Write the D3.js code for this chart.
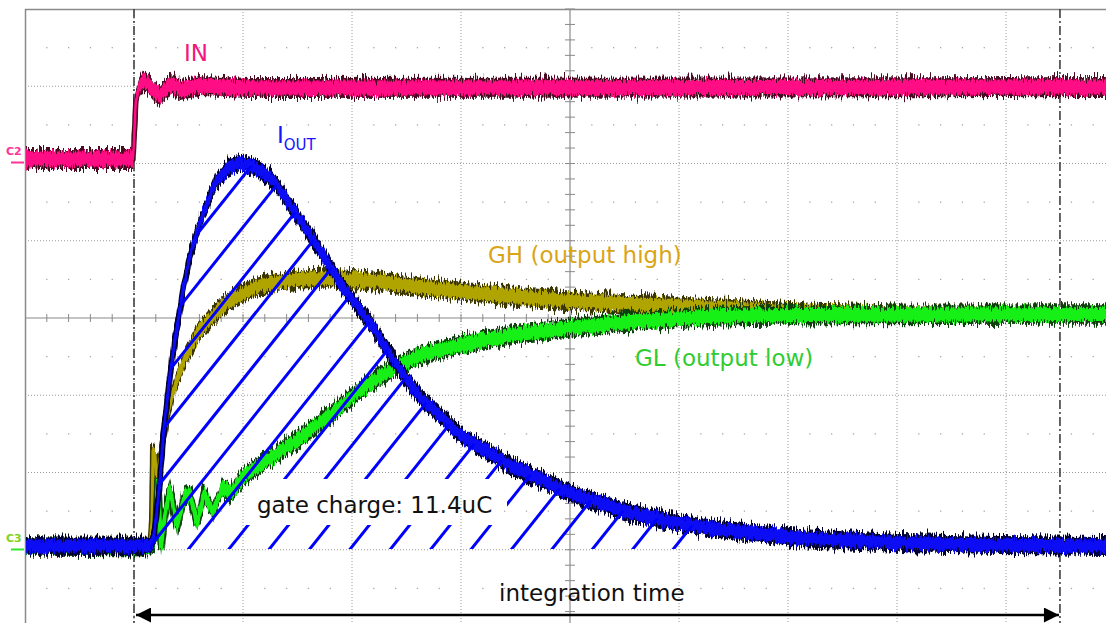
<!DOCTYPE html>
<html><head><meta charset="utf-8">
<script src="https://cdn.jsdelivr.net/npm/d3@7"></script>
<style>body{margin:0;background:#fff;} svg{display:block;font-family:Tahoma,"DejaVu Sans",Verdana,sans-serif;}</style>
</head><body><svg id="c" width="1106" height="623"></svg>
<script>
// ---- data (time and amplitude in screen divisions) ----
const inT   = [0.009,0.991,1.000,1.018,1.046,1.083,1.128,1.174,1.239,1.294,1.349,1.422,1.514,1.606,2.064,9.917];
const inV   = [2.058,2.058,2.304,2.822,2.977,3.081,3.029,2.951,2.874,2.977,3.029,2.951,2.977,3.003,2.977,2.990];

const ioutT = [0.009,1.147,1.174,1.202,1.220,1.239,1.266,1.284,1.330,1.376,1.450,1.514,1.606,1.743,1.862,1.972,2.110,2.275,2.495,2.706,2.917,3.193,3.440,3.624,4.018,4.477,5.000,5.550,6.193,7.110,8.028,8.945,9.917];
const ioutV = [-2.951,-2.951,-2.874,-2.615,-2.356,-2.097,-1.579,-1.320,-0.738,-0.285,0.362,0.816,1.230,1.748,1.942,2.006,1.955,1.786,1.333,0.880,0.401,-0.117,-0.673,-1.023,-1.540,-1.929,-2.265,-2.524,-2.706,-2.848,-2.913,-2.939,-2.951];

const ghT = [0.009,1.147,1.165,1.174,1.193,1.211,1.220,1.266,1.312,1.376,1.468,1.606,1.817,2.064,2.275,2.523,2.798,3.193,3.624,4.358,5.000,5.734,6.376,7.110,8.028,9.917];
const ghV = [-2.951,-2.951,-2.615,-1.735,-1.773,-2.227,-1.968,-1.579,-1.217,-0.867,-0.518,-0.155,0.168,0.375,0.453,0.505,0.518,0.479,0.401,0.298,0.220,0.168,0.129,0.078,0.052,0.052];

const glT = [0.009,1.147,1.193,1.220,1.248,1.284,1.330,1.394,1.459,1.514,1.578,1.642,1.725,1.807,1.899,2.018,2.248,2.523,2.798,3.073,3.349,3.624,3.991,4.450,5.000,5.642,6.376,7.110,9.917];
const glV = [-2.951,-2.964,-2.874,-2.071,-2.977,-2.550,-2.201,-2.718,-2.317,-2.278,-2.667,-2.278,-2.511,-2.201,-2.252,-2.032,-1.812,-1.553,-1.256,-0.932,-0.673,-0.479,-0.350,-0.220,-0.129,-0.039,0.026,0.039,0.052];

const cursorT = [1.0, 9.495];          // integration window cursors
const hatchBase = -2.99;               // integration baseline
const hatchRange = [1.147, 6.20];      // hatched region
const chLevels = [2.058, -2.951];      // C2 / C3 ground markers
const chNames = ["C2", "C3"];
const labels = ["IN", "GH (output high)", "GL (output low)", "gate charge: 11.4uC", "integration time"];

// ---- setup ----
const svg = d3.select("#c");
const x = d3.scaleLinear().domain([0, 10]).range([25, 1115]);
const y = d3.scaleLinear().domain([-4, 4]).range([627, 9]);
const zip = (T, V) => T.map((t, i) => ({t, v: V[i]}));
const line = d3.line().x(d => x(d.t)).y(d => y(d.v));

const defs = svg.append("defs");
function jag(id, seed, scale, fx) {
  const f = defs.append("filter").attr("id", id).attr("filterUnits", "userSpaceOnUse")
    .attr("x", 0).attr("y", 0).attr("width", 1106).attr("height", 623);
  f.append("feTurbulence").attr("type", "fractalNoise").attr("baseFrequency", fx + " 0.05")
    .attr("numOctaves", 2).attr("seed", seed).attr("result", "t");
  f.append("feColorMatrix").attr("in", "t").attr("type", "matrix")
    .attr("values", "0 0 0 0 0.5  0 1 0 0 0  0 0 0 0 0  0 0 0 0 1").attr("result", "m");
  f.append("feDisplacementMap").attr("in", "SourceGraphic").attr("in2", "m")
    .attr("scale", scale).attr("xChannelSelector", "R").attr("yChannelSelector", "G");
}
jag("j1", 3, 16, 0.7);
jag("j2", 9, 12, 0.9);

// ---- grid ----
const g = svg.append("g");
const xs = d3.range(1, 10).filter(k => k !== 5);
const ys = d3.range(-3, 4).filter(k => k !== 0);
g.selectAll(".vg").data(xs).join("line")
  .attr("x1", d => x(d)).attr("x2", d => x(d)).attr("y1", y(4)).attr("y2", 623)
  .attr("stroke", "#9a9a9a").attr("stroke-dasharray", "1,2");
g.selectAll(".hg").data(ys).join("line")
  .attr("y1", d => y(d)).attr("y2", d => y(d)).attr("x1", x(0)).attr("x2", 1106)
  .attr("stroke", "#9a9a9a").attr("stroke-dasharray", "1,2");
const halfRows = d3.range(-3.5, 4, 1);
const dotXs = d3.range(0, 10.01, 0.2).filter(t => Math.abs(t - Math.round(t)) > 0.01);
halfRows.forEach(r => {
  g.selectAll(null).data(dotXs).join("rect")
    .attr("x", d => x(d) - 0.6).attr("y", y(r) - 0.6).attr("width", 1.3).attr("height", 1.3)
    .attr("fill", "#a8a8a8");
});
g.append("line").attr("x1", x(0) + 0.5).attr("x2", x(0) + 0.5).attr("y1", y(4)).attr("y2", 623).attr("stroke", "#8a8a8a").attr("stroke-width", 1.5);
g.append("line").attr("x1", x(0)).attr("x2", 1106).attr("y1", y(4) + 0.5).attr("y2", y(4) + 0.5).attr("stroke", "#8a8a8a").attr("stroke-width", 1.5);
g.append("line").attr("x1", x(5)).attr("x2", x(5)).attr("y1", y(4)).attr("y2", 623).attr("stroke", "#8a8a8a").attr("stroke-width", 1.2);
g.append("line").attr("x1", x(0)).attr("x2", 1106).attr("y1", y(0)).attr("y2", y(0)).attr("stroke", "#8a8a8a").attr("stroke-width", 1.2);
g.selectAll(".xt").data(d3.range(0.2, 10, 0.2)).join("line")
  .attr("x1", d => x(d)).attr("x2", d => x(d)).attr("y1", y(0) - 4).attr("y2", y(0) + 4)
  .attr("stroke", "#8a8a8a");
g.selectAll(".yt").data(d3.range(-4, 4.01, 0.2)).join("line")
  .attr("y1", d => y(d)).attr("y2", d => y(d)).attr("x1", x(5) - 5).attr("x2", x(5) + 5)
  .attr("stroke", "#8a8a8a");

// ---- cursors ----
svg.selectAll(".cur").data(cursorT).join("line")
  .attr("x1", d => x(d)).attr("x2", d => x(d)).attr("y1", y(4)).attr("y2", 623)
  .attr("stroke", "#404040").attr("stroke-width", 1.6).attr("stroke-dasharray", "9,3,2,3");

// ---- traces: vertical-noise bands ----
function trace(T, V, color, dark, h, sw) {
  const pts = zip(T, V);
  const band = k => d3.area().x(d => x(d.t)).y0(d => y(d.v) + k).y1(d => y(d.v) - k)(pts);
  const gd = svg.append("g").attr("filter", "url(#j1)");
  gd.append("path").attr("d", band(h + 2.5)).attr("fill", dark);
  gd.append("path").attr("d", line(pts)).attr("fill", "none").attr("stroke", dark).attr("stroke-width", sw + 3);
  const gc = svg.append("g").attr("filter", "url(#j2)");
  gc.append("path").attr("d", band(h)).attr("fill", color);
  gc.append("path").attr("d", line(pts)).attr("fill", "none").attr("stroke", color).attr("stroke-width", sw);
}
trace(ghT, ghV, "#b0a400", "#3b3400", 7, 3);
trace(glT, glV, "#18f018", "#0d400d", 7, 4);
trace(ioutT, ioutV, "#0a0af5", "#050530", 6.5, 3);
trace(inT, inV, "#ff0a84", "#4a0a24", 7.5, 2.5);

// ---- hatch ----
const clipPts = zip(ioutT, ioutV).filter(d => d.t >= hatchRange[0] && d.t <= hatchRange[1]);
const area = d3.area().x(d => x(d.t)).y0(y(hatchBase)).y1(d => y(d.v));
defs.append("clipPath").attr("id", "hclip").append("path").attr("d", area(clipPts));
const mask = defs.append("mask").attr("id", "hmask").attr("maskUnits", "userSpaceOnUse")
  .attr("x", 0).attr("y", 0).attr("width", 1106).attr("height", 623);
mask.append("rect").attr("width", 1106).attr("height", 623).attr("fill", "#fff");
mask.append("rect").attr("x", 245).attr("y", 479).attr("width", 262).attr("height", 46).attr("fill", "#000");
const base = y(hatchBase), slope = 1.25, sp = 40.4;
const starts = d3.range(-20, 14).map(k => 187 + k * sp);
svg.append("g").attr("clip-path", "url(#hclip)").append("g").attr("mask", "url(#hmask)")
  .selectAll("line").data(starts).join("line")
  .attr("x1", d => d).attr("y1", base + 2).attr("x2", d => d + 500 / slope).attr("y2", base - 500)
  .attr("stroke", "#0000ff").attr("stroke-width", 3);

// ---- channel markers ----
chLevels.forEach((v, i) => {
  const col = i === 0 ? "#ff3399" : "#7ed321";
  svg.append("text").attr("x", 6).attr("y", y(v) - 4).attr("font-size", 11).attr("font-weight", "bold")
    .attr("fill", col).text(chNames[i]);
  svg.append("line").attr("x1", 11).attr("x2", 24).attr("y1", y(v) + 3.5).attr("y2", y(v) + 3.5)
    .attr("stroke", i === 0 ? "#ff3399" : "#2ee62e").attr("stroke-width", 2);
});

// ---- labels ----
svg.append("text").attr("x", 184).attr("y", 61).attr("font-size", 23).attr("fill", "#f5157d").text(labels[0]);
const io = svg.append("text").attr("x", 277).attr("y", 143).attr("font-size", 23).attr("fill", "#1414ff");
io.append("tspan").text("I");
io.append("tspan").attr("font-size", 15).attr("dy", 7).text("OUT");
svg.append("text").attr("x", 488).attr("y", 263).attr("font-size", 23).attr("fill", "#d9a516").text(labels[1]);
svg.append("text").attr("x", 635).attr("y", 366).attr("font-size", 23).attr("fill", "#30cc30").text(labels[2]);
svg.append("text").attr("x", 257).attr("y", 513).attr("font-size", 23).attr("fill", "#111").text(labels[3]);
svg.append("text").attr("x", 499).attr("y", 601).attr("font-size", 23).attr("fill", "#111").text(labels[4]);

// ---- integration arrow ----
defs.append("marker").attr("id", "arr").attr("viewBox", "0 0 10 10")
  .attr("refX", 10).attr("refY", 5).attr("markerWidth", 7).attr("markerHeight", 6)
  .attr("markerUnits", "strokeWidth").attr("orient", "auto-start-reverse")
  .append("path").attr("d", "M0,0 L10,5 L0,10 Z").attr("fill", "#000");
svg.append("line").attr("x1", x(cursorT[0]) + 2).attr("x2", x(cursorT[1]) - 1)
  .attr("y1", 615).attr("y2", 615).attr("stroke", "#000").attr("stroke-width", 2.5)
  .attr("marker-start", "url(#arr)").attr("marker-end", "url(#arr)");
</script></body></html>
